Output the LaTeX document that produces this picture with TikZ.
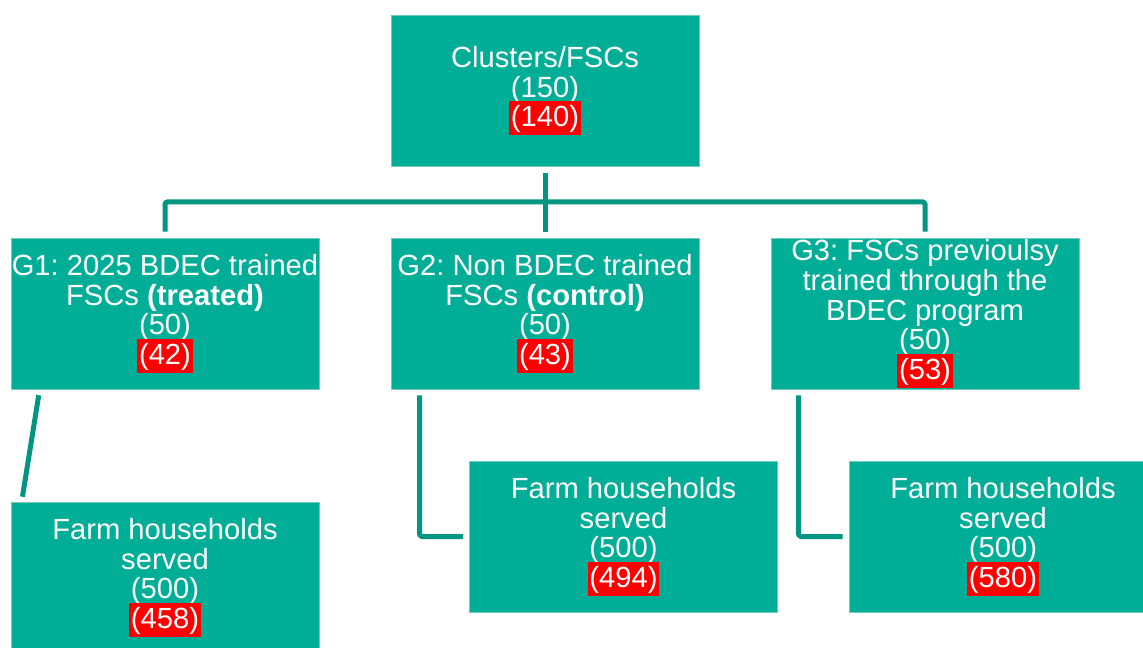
\documentclass[tikz,border=0pt]{standalone}
\usepackage{fontspec}
\setmainfont{Liberation Sans}
\definecolor{boxteal}{RGB}{0,174,152}
\definecolor{edgeteal}{RGB}{110,205,190}
\definecolor{lineteal}{RGB}{0,150,130}
\lineskiplimit=-30pt
\frenchspacing
\newcommand{\hlred}[1]{{\setlength{\fboxsep}{0pt}\colorbox{red}{\kern1pt\rule[-4.6pt]{0pt}{19.3pt}#1\kern1pt}}}
\begin{document}
\begin{tikzpicture}[x=0.02cm, y=-0.02cm,
    box/.style={fill=boxteal, draw=edgeteal, line width=0.4pt, inner sep=0pt,
        minimum width=6.16cm, minimum height=3.02cm, text=white, align=center,
        font=\fontsize{16.6}{17}\selectfont},
    link/.style={draw=lineteal, line width=0.1cm, line join=round, rounded corners=1pt}]
    \useasboundingbox (0,0) rectangle (1143,648);

    % top of the tree
    \node[box] (top) at (545,90.5) {Clusters/FSCs\\(150)\\\hlred{(140)}};

    % the three groups
    \node[box] (g1) at (165,313.5) {G1: 2025 BDEC trained\\FSCs \textbf{(treated)}\\(50)\\\hlred{(42)}};
    \node[box] (g2) at (545,313.5) {G2: Non BDEC trained\\FSCs \textbf{(control)}\\(50)\\\hlred{(43)}};
    \node[box] (g3) at (925,313.5) {G3: FSCs previoulsy\\trained through the\\BDEC program\\(50)\\\hlred{(53)}};

    % households served by each group
    \node[box] (f1) at (165,577.5) {Farm households\\served\\(500)\\\hlred{(458)}};
    \node[box] (f2) at (623.5,536.5) {Farm households\\served\\(500)\\\hlred{(494)}};
    \node[box] (f3) at (1003,536.5) {Farm households\\served\\(500)\\\hlred{(580)}};

    % connectors
    \coordinate (bus) at (545,202);
    \draw[link, shorten <=0.14cm, shorten >=0.12cm] (top.south) -- (g2.north);
    \draw[link, shorten <=0.12cm, shorten >=0.12cm] (g1.north) |- (bus) -| (g3.north);
    \draw[link, shorten <=0.12cm, shorten >=0.1cm] ([xshift=0.58cm]g1.south west) -- ([xshift=0.22cm]f1.north west);
    \draw[link, shorten <=0.12cm, shorten >=0.12cm] ([xshift=0.58cm]g2.south west) |- (f2.west);
    \draw[link, shorten <=0.12cm, shorten >=0.12cm] ([xshift=0.56cm]g3.south west) |- (f3.west);
\end{tikzpicture}
\end{document}
